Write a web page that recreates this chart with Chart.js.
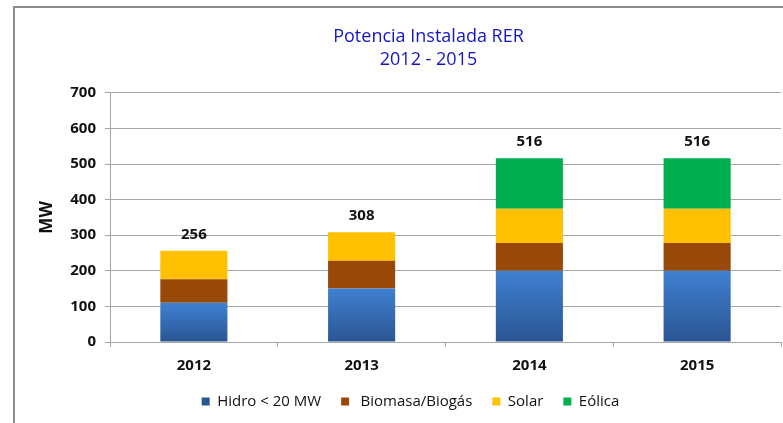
<!DOCTYPE html>
<html>
<head>
<meta charset="utf-8">
<script src="https://cdn.jsdelivr.net/npm/chart.js@4/dist/chart.umd.min.js"></script>
<style>
  html, body { margin: 0; padding: 0; background: #fff; }
  #wrap { position: relative; width: 783px; height: 423px; overflow: hidden; }
  #frame {
    position: absolute; left: 13px; top: 6px; width: 800px; height: 430px;
    border-left: 2px solid #8c8c8c; border-top: 2px solid #8c8c8c;
  }
  canvas { position: absolute; left: 0; top: 0; }
</style>
</head>
<body>
<div id="wrap">
  <div id="frame"></div>
  <canvas id="chart" width="783" height="423"></canvas>
</div>
<script>
const years = ['2012', '2013', '2014', '2015']
const hidro = [110, 150, 200, 200]
const biomasa = [66, 78, 78, 78]
const solar = [80, 80, 96, 96]
const eolica = [null, null, 142, 142]
const yTicks = [0, 100, 200, 300, 400, 500, 600, 700]

const totals = years.map((_, i) => hidro[i] + biomasa[i] + solar[i] + (eolica[i] || 0))

const FONT = "'Open Sans', sans-serif"

// excel-like vertical gradient on each blue bar
const hidroFill = (ctx) => {
  const chart = ctx.chart
  if (!chart.chartArea || ctx.raw == null) return '#3a74c0'
  const y = chart.scales.y
  const top = y.getPixelForValue(ctx.raw)
  const bottom = y.getPixelForValue(0)
  const g = chart.ctx.createLinearGradient(0, top, 0, bottom)
  g.addColorStop(0, '#3f80d2')
  g.addColorStop(1, '#2a5592')
  return g
}

const totalLabels = {
  id: 'totalLabels',
  afterDatasetsDraw (chart) {
    const { ctx, scales } = chart
    ctx.save()
    ctx.font = 'bold 15px ' + FONT
    ctx.fillStyle = '#111'
    ctx.textAlign = 'center'
    ctx.textBaseline = 'bottom'
    totals.forEach((t, i) => {
      ctx.fillText(String(t), scales.x.getPixelForValue(i), scales.y.getPixelForValue(t) - 9)
    })
    ctx.restore()
  }
}

// nudge title and legend to the right, like the original
const shiftBoxes = {
  id: 'shiftBoxes',
  afterLayout (chart) {
    chart.legend.left += 20
    chart.legend.right += 20
    chart.titleBlock.left += 38
    chart.titleBlock.right += 38
  }
}

new Chart(document.getElementById('chart'), {
  type: 'bar',
  data: {
    labels: years,
    datasets: [
      { label: 'Hidro < 20 MW', data: hidro, backgroundColor: hidroFill },
      { label: ' Biomasa/Biogás', data: biomasa, backgroundColor: '#984807' },
      { label: 'Solar', data: solar, backgroundColor: '#ffc000' },
      { label: 'Eólica', data: eolica, backgroundColor: '#00b050' }
    ]
  },
  options: {
    responsive: false,
    animation: false,
    devicePixelRatio: 1,
    layout: { padding: { top: 0, right: 2, bottom: 4, left: 0 } },
    datasets: {
      bar: { categoryPercentage: 1, barPercentage: 0.4, borderWidth: 0 }
    },
    scales: {
      x: {
        stacked: true,
        grid: { drawOnChartArea: false, color: '#a6a6a6', tickLength: 5 },
        border: { color: '#a6a6a6' },
        ticks: { color: '#111', padding: 10, font: { family: FONT, size: 15, weight: 'bold' } },
        afterFit (scale) { scale.height = 32 }
      },
      y: {
        stacked: true,
        min: 0,
        max: 700,
        afterBuildTicks (scale) { scale.ticks = yTicks.map(v => ({ value: v })) },
        grid: { color: '#a6a6a6', tickLength: 5 },
        border: { color: '#a6a6a6' },
        ticks: { color: '#111', padding: 9, font: { family: FONT, size: 15, weight: 'bold' } },
        title: {
          display: true,
          text: 'MW',
          color: '#111',
          padding: { top: 37, bottom: 0 },
          font: { family: FONT, size: 17, weight: 'bold' }
        },
        afterFit (scale) { scale.width = 110 }
      }
    },
    plugins: {
      title: {
        display: true,
        text: ['Potencia Instalada RER', '2012 - 2015'],
        color: '#1515c8',
        font: { family: FONT, size: 18, weight: 'normal', lineHeight: 1.3 },
        padding: { top: 25, bottom: 21 }
      },
      legend: {
        position: 'bottom',
        labels: {
          color: '#111',
          boxWidth: 8,
          boxHeight: 8,
          padding: 20,
          font: { family: FONT, size: 15 }
        }
      },
      tooltip: { enabled: false }
    }
  },
  plugins: [totalLabels, shiftBoxes]
})
</script>
</body>
</html>
